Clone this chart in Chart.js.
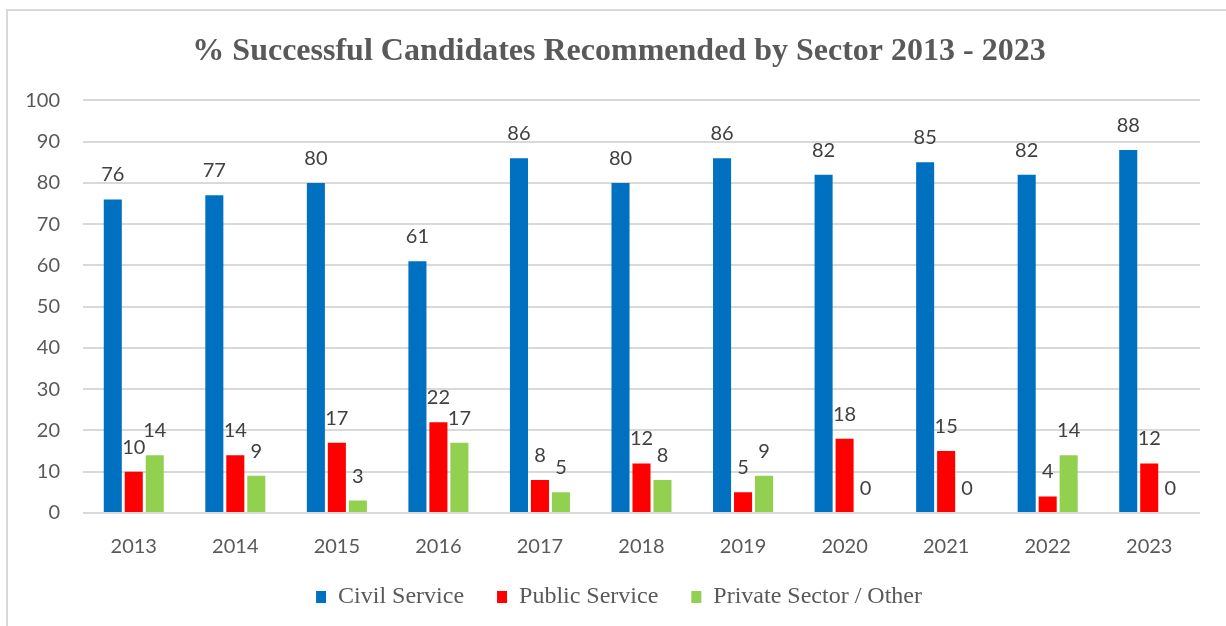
<!DOCTYPE html>
<html>
<head>
<meta charset="utf-8">
<title>% Successful Candidates Recommended by Sector 2013 - 2023</title>
<script src="https://cdn.jsdelivr.net/npm/chart.js@4/dist/chart.umd.min.js"></script>
<style>
    html, body { margin: 0; padding: 0; background: #ffffff; }
    canvas { display: block; }
</style>
</head>
<body>
<canvas id="sector-chart" width="1226" height="626"></canvas>
<script>
// Years on the x axis
const years = ['2013', '2014', '2015', '2016', '2017', '2018', '2019', '2020', '2021', '2022', '2023'];

// Percentage of successful candidates per sector
const civilService = [76, 77, 80, 61, 86, 80, 86, 82, 85, 82, 88];
const publicService = [10, 14, 17, 22, 8, 12, 5, 18, 15, 4, 12];
const privateSector = [14, 9, 3, 17, 5, 8, 9, 0, 0, 14, 0];

// Y axis range
const yMin = 0;
const yMax = 100;
const yStep = 10;

const titleText = '% Successful Candidates Recommended by Sector 2013 - 2023';

// Frame lines along the top and left edge, on a white background
const framePlugin = {
    id: 'frame',
    beforeDraw(chart) {
        const ctx = chart.ctx;
        ctx.save();
        ctx.fillStyle = '#ffffff';
        ctx.fillRect(0, 0, chart.width, chart.height);
        ctx.strokeStyle = '#d9d9d9';
        ctx.lineWidth = 2;
        ctx.beginPath();
        ctx.moveTo(7, chart.height);
        ctx.lineTo(7, 10);
        ctx.lineTo(chart.width, 10);
        ctx.stroke();
        ctx.restore();
    }
};

// Title and legend sit a little right of the canvas centre,
// and the legend is pulled up closer to the year labels
const nudgeBoxes = {
    id: 'nudgeBoxes',
    afterLayout(chart) {
        [chart.titleBlock, chart.legend].forEach(box => {
            if (!box) return;
            box.left += 9;
            box.right += 9;
        });
        if (chart.legend) {
            chart.legend.top -= 7;
            chart.legend.bottom -= 7;
        }
    }
};

// Value labels written above each bar
const valueLabels = {
    id: 'valueLabels',
    afterDatasetsDraw(chart) {
        const ctx = chart.ctx;
        ctx.save();
        ctx.font = '20px Lato';
        ctx.fillStyle = '#404040';
        ctx.textAlign = 'center';
        ctx.textBaseline = 'alphabetic';
        chart.data.datasets.forEach((dataset, i) => {
            const meta = chart.getDatasetMeta(i);
            meta.data.forEach((bar, j) => {
                ctx.fillText(String(dataset.data[j]), bar.x, bar.y - 18);
            });
        });
        ctx.restore();
    }
};

const chartCtx = document.getElementById('sector-chart').getContext('2d');
const sectorChart = new Chart(chartCtx, {
    type: 'bar',
    data: {
        labels: years,
        datasets: [
            { label: 'Civil Service', data: civilService, backgroundColor: '#0070c0' },
            { label: 'Public Service', data: publicService, backgroundColor: '#ff0000' },
            { label: 'Private Sector / Other', data: privateSector, backgroundColor: '#92d050' }
        ]
    },
    options: {
        responsive: false,
        animation: false,
        categoryPercentage: 0.62,
        barPercentage: 0.86,
        layout: {
            padding: { top: 0, right: 26, bottom: 0, left: 20 }
        },
        scales: {
            x: {
                grid: { display: false, drawTicks: false },
                border: { display: false },
                ticks: {
                    color: '#595959',
                    font: { family: 'Lato', size: 20 },
                    padding: 22
                },
                afterFit(scale) {
                    scale.height = 46;
                }
            },
            y: {
                min: yMin,
                max: yMax,
                grid: { color: '#d9d9d9', lineWidth: 2, drawTicks: false },
                border: { display: false },
                ticks: {
                    stepSize: yStep,
                    color: '#595959',
                    font: { family: 'Lato', size: 20 },
                    padding: 23
                },
                afterFit(scale) {
                    scale.width = 63;
                }
            }
        },
        plugins: {
            title: {
                display: true,
                text: titleText,
                color: '#595959',
                font: { family: 'Liberation Serif', size: 32, weight: 'bold' },
                padding: { top: 33, bottom: 29 }
            },
            legend: {
                position: 'bottom',
                labels: {
                    color: '#595959',
                    font: { family: 'Liberation Serif', size: 24 },
                    boxWidth: 10,
                    boxHeight: 12,
                    padding: 33
                }
            },
            tooltip: { enabled: false }
        }
    },
    plugins: [framePlugin, nudgeBoxes, valueLabels]
});
</script>
</body>
</html>
